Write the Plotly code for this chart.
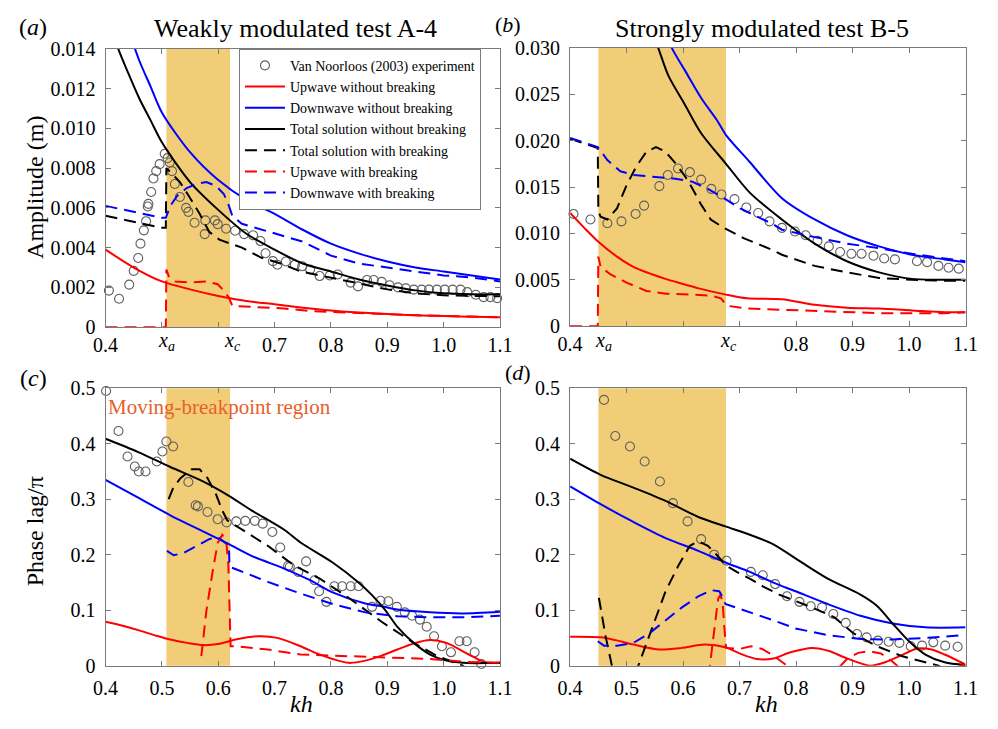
import plotly.graph_objects as go

# ---------------- data ----------------
# region boundaries (x_a, x_c)
XA_A, XC_A = 0.508, 0.621
XA_B, XC_B = 0.450, 0.676

# ----- panel (a): amplitude, weakly modulated A-4 -----
a_exp_kh = [0.406, 0.424, 0.442, 0.450, 0.458, 0.462, 0.468, 0.472, 0.475, 0.476, 0.481, 0.485, 0.490, 0.496,
            0.505, 0.510, 0.514, 0.518, 0.523, 0.532, 0.543, 0.547, 0.558, 0.576, 0.577, 0.594, 0.599, 0.614,
            0.630, 0.646, 0.662, 0.675, 0.684, 0.697, 0.705, 0.720, 0.736, 0.749, 0.763, 0.780, 0.798, 0.812,
            0.835, 0.848, 0.864, 0.876, 0.890, 0.904, 0.919, 0.933, 0.947, 0.961, 0.974, 0.988, 1.002, 1.016,
            1.030, 1.042, 1.057, 1.071, 1.083, 1.095]
a_exp_amp = [0.00184, 0.00143, 0.00214, 0.00283, 0.00348, 0.00420, 0.00487, 0.00533, 0.00607, 0.00620, 0.00680,
             0.00748, 0.00785, 0.00820, 0.00872, 0.00850, 0.00828, 0.00785, 0.00720, 0.00655, 0.00600, 0.00580,
             0.00525, 0.00468, 0.00537, 0.00537, 0.00518, 0.00495, 0.00485, 0.00468, 0.00462, 0.00433, 0.00372,
             0.00332, 0.00314, 0.00330, 0.00314, 0.00306, 0.00290, 0.00257, 0.00260, 0.00265, 0.00224, 0.00205,
             0.00237, 0.00237, 0.00228, 0.00211, 0.00200, 0.00195, 0.00189, 0.00189, 0.00189, 0.00189, 0.00189,
             0.00189, 0.00189, 0.00176, 0.00163, 0.00151, 0.00151, 0.00146]

a_up_kh = [0.40, 0.45, 0.50, 0.55, 0.60, 0.65, 0.70, 0.75, 0.80, 0.85, 0.90, 0.95, 1.00, 1.05, 1.10]
a_up_amp = [0.0039, 0.0030, 0.0023, 0.0019, 0.00157, 0.00132, 0.00115, 0.00098, 0.00084, 0.00074, 0.00066,
            0.00060, 0.00056, 0.00052, 0.00050]

a_down_kh = [0.40, 0.42, 0.44, 0.46, 0.48, 0.50, 0.55, 0.60, 0.65, 0.70, 0.75, 0.80, 0.85, 0.90, 0.95, 1.00, 1.05, 1.10]
a_down_amp = [0.0180, 0.0165, 0.0150, 0.0134, 0.0121, 0.0108, 0.0088, 0.0074, 0.0064, 0.0057, 0.0049, 0.0042,
              0.0037, 0.0033, 0.0030, 0.0028, 0.0026, 0.0024]

a_tot_kh = [0.40, 0.42, 0.44, 0.46, 0.48, 0.50, 0.55, 0.60, 0.65, 0.70, 0.75, 0.80, 0.85, 0.90, 0.95, 1.00, 1.05, 1.10]
a_tot_amp = [0.0162, 0.0142, 0.0128, 0.0115, 0.0104, 0.0093, 0.0073, 0.0059, 0.0047, 0.0039, 0.0032, 0.0028,
             0.0024, 0.0021, 0.00185, 0.0017, 0.00165, 0.00165]

a_totb_kh = [0.40, 0.45, 0.50, 0.507, 0.508, 0.515, 0.532, 0.55, 0.567, 0.584, 0.602, 0.622, 0.642, 0.676, 0.711,
             0.746, 0.80, 0.85, 0.90, 0.95, 1.00, 1.05, 1.10]
a_totb_amp = [0.0056, 0.0053, 0.0050, 0.0050, 0.0080, 0.0078, 0.0073, 0.0065, 0.0057, 0.0048, 0.0044, 0.0042,
              0.0040, 0.0035, 0.0032, 0.0028, 0.0025, 0.0022, 0.0019, 0.0017, 0.0016, 0.00158, 0.00155]

a_upb_kh = [0.40, 0.507, 0.508, 0.512, 0.524, 0.55, 0.579, 0.599, 0.61, 0.619, 0.625, 0.659, 0.717, 0.763, 0.85,
            0.95, 1.05, 1.10]
a_upb_amp = [0.0, 0.0, 0.0029, 0.00257, 0.0023, 0.00224, 0.0023, 0.00216, 0.00184, 0.00148, 0.00107, 0.00102,
             0.00094, 0.00081, 0.00070, 0.00060, 0.00053, 0.00050]

a_downb_kh = [0.40, 0.45, 0.50, 0.507, 0.515, 0.527, 0.544, 0.561, 0.579, 0.596, 0.61, 0.619, 0.625, 0.642, 0.688,
              0.75, 0.80, 0.85, 0.90, 0.95, 1.00, 1.05, 1.10]
a_downb_amp = [0.0061, 0.0058, 0.0055, 0.0055, 0.0061, 0.0066, 0.0070, 0.0072, 0.0073, 0.0071, 0.0067, 0.0061,
               0.0056, 0.0052, 0.0048, 0.0043, 0.0036, 0.0032, 0.0030, 0.0028, 0.0026, 0.0025, 0.0023]

# ----- panel (b): amplitude, strongly modulated B-5 -----
b_exp_kh = [0.406, 0.436, 0.466, 0.491, 0.516, 0.531, 0.558, 0.573, 0.591, 0.612, 0.632, 0.650, 0.668, 0.691,
            0.712, 0.733, 0.753, 0.775, 0.798, 0.817, 0.838, 0.858, 0.878, 0.898, 0.916, 0.937, 0.956, 0.975,
            1.014, 1.032, 1.052, 1.070, 1.088]
b_exp_amp = [0.0121, 0.0115, 0.0111, 0.0113, 0.0121, 0.0130, 0.0151, 0.0163, 0.0170, 0.0166, 0.0158, 0.0148,
             0.0142, 0.0137, 0.0128, 0.0122, 0.0113, 0.0106, 0.0102, 0.0098, 0.0092, 0.0086, 0.0080, 0.0078,
             0.0078, 0.0076, 0.0073, 0.0072, 0.0070, 0.0069, 0.0065, 0.0063, 0.0062]

b_up_kh = [0.40, 0.425, 0.45, 0.483, 0.512, 0.545, 0.569, 0.603, 0.626, 0.676, 0.713, 0.775, 0.833, 0.890, 0.947,
           1.005, 1.063, 1.10]
b_up_amp = [0.0122, 0.0106, 0.0091, 0.0075, 0.0064, 0.0056, 0.0051, 0.0045, 0.0041, 0.0034, 0.0030, 0.0029,
            0.0023, 0.0020, 0.0019, 0.0017, 0.0015, 0.0015]

b_down_kh = [0.55, 0.58, 0.603, 0.632, 0.66, 0.676, 0.718, 0.775, 0.833, 0.890, 0.947, 1.005, 1.063, 1.10]
b_down_amp = [0.0345, 0.0300, 0.0276, 0.0246, 0.0222, 0.0206, 0.0177, 0.0138, 0.0115, 0.0098, 0.0086, 0.0077,
              0.0072, 0.0069]

b_tot_kh = [0.53, 0.556, 0.574, 0.603, 0.632, 0.676, 0.718, 0.775, 0.833, 0.890, 0.947, 1.005, 1.05, 1.10]
b_tot_amp = [0.0340, 0.0300, 0.0270, 0.0239, 0.0208, 0.0175, 0.0144, 0.0115, 0.0089, 0.0070, 0.0058, 0.0051,
             0.0050, 0.0050]

b_totb_kh = [0.40, 0.431, 0.449, 0.450, 0.454, 0.466, 0.483, 0.50, 0.517, 0.535, 0.552, 0.569, 0.586, 0.603,
             0.615, 0.632, 0.649, 0.672, 0.707, 0.759, 0.775, 0.833, 0.890, 0.947, 1.005, 1.063, 1.10]
b_totb_amp = [0.0202, 0.0196, 0.0192, 0.0124, 0.0118, 0.0115, 0.0127, 0.0152, 0.0172, 0.0188, 0.0193, 0.0188,
              0.0176, 0.0162, 0.0150, 0.0131, 0.0115, 0.0106, 0.0095, 0.0082, 0.0077, 0.0065, 0.0058, 0.0052,
              0.0050, 0.0049, 0.0049]

b_upb_kh = [0.40, 0.449, 0.450, 0.454, 0.471, 0.50, 0.535, 0.569, 0.615, 0.649, 0.667, 0.678, 0.713, 0.759, 0.833,
            0.947, 1.063, 1.10]
b_upb_amp = [0.0, 0.0, 0.0075, 0.0064, 0.0056, 0.0047, 0.0038, 0.0035, 0.0034, 0.0033, 0.0030, 0.0022, 0.0019,
             0.0018, 0.0016, 0.0014, 0.0014, 0.0015]

b_downb_kh = [0.40, 0.449, 0.466, 0.489, 0.512, 0.546, 0.586, 0.615, 0.644, 0.672, 0.701, 0.759, 0.775, 0.833,
              0.890, 0.947, 1.005, 1.063, 1.10]
b_downb_amp = [0.0203, 0.0193, 0.0179, 0.0167, 0.0163, 0.0161, 0.0159, 0.0156, 0.0148, 0.0138, 0.0127, 0.0110,
               0.0104, 0.0096, 0.0089, 0.0084, 0.0078, 0.0073, 0.0070]

# ----- panel (c): phase lag / pi, A-4 -----
c_exp_kh = [0.401, 0.423, 0.439, 0.452, 0.459, 0.471, 0.491, 0.501, 0.508, 0.520, 0.547, 0.560, 0.564, 0.581,
            0.599, 0.615, 0.632, 0.648, 0.665, 0.679, 0.696, 0.710, 0.724, 0.727, 0.742, 0.756, 0.771, 0.779,
            0.792, 0.806, 0.820, 0.835, 0.849, 0.873, 0.888, 0.902, 0.917, 0.931, 0.944, 0.958, 0.970, 0.983,
            0.997, 1.013, 1.028, 1.041, 1.055, 1.067]
c_exp_ph = [0.495, 0.423, 0.377, 0.359, 0.350, 0.350, 0.368, 0.386, 0.404, 0.395, 0.331, 0.289, 0.287, 0.277,
            0.264, 0.258, 0.260, 0.261, 0.261, 0.256, 0.241, 0.213, 0.180, 0.178, 0.169, 0.188, 0.154, 0.134,
            0.115, 0.143, 0.143, 0.143, 0.143, 0.106, 0.117, 0.116, 0.106, 0.096, 0.090, 0.083, 0.070, 0.053,
            0.035, 0.024, 0.044, 0.044, 0.024, 0.003]

c_up_kh = [0.40, 0.43, 0.458, 0.49, 0.515, 0.545, 0.573, 0.60, 0.631, 0.671, 0.705, 0.746, 0.775, 0.803, 0.832,
           0.861, 0.89, 0.918, 0.947, 0.976, 1.005, 1.045, 1.074, 1.10]
c_up_ph = [0.079, 0.072, 0.064, 0.054, 0.047, 0.041, 0.037, 0.039, 0.047, 0.053, 0.050, 0.035, 0.022, 0.012,
           0.005, 0.009, 0.018, 0.029, 0.040, 0.046, 0.041, 0.020, 0.006, 0.005]

c_down_kh = [0.40, 0.458, 0.515, 0.573, 0.619, 0.659, 0.717, 0.763, 0.803, 0.861, 0.895, 0.918, 0.976, 1.034, 1.10]
c_down_ph = [0.335, 0.303, 0.271, 0.242, 0.219, 0.198, 0.175, 0.154, 0.132, 0.112, 0.106, 0.101, 0.096, 0.094, 0.097]

c_tot_kh = [0.40, 0.458, 0.515, 0.573, 0.619, 0.659, 0.717, 0.746, 0.803, 0.849, 0.872, 0.895, 0.918, 0.947,
            0.976, 1.005, 1.034, 1.10]
c_tot_ph = [0.409, 0.385, 0.358, 0.332, 0.306, 0.280, 0.245, 0.222, 0.186, 0.150, 0.128, 0.102, 0.070, 0.041,
            0.020, 0.009, 0.005, 0.005]

c_totb_kh = [0.512, 0.52, 0.533, 0.553, 0.567, 0.581, 0.596, 0.607, 0.616, 0.642, 0.688, 0.734, 0.78, 0.832,
             0.89, 0.947, 0.988, 1.034, 1.04]
c_totb_ph = [0.300, 0.320, 0.338, 0.354, 0.354, 0.338, 0.309, 0.280, 0.262, 0.245, 0.216, 0.181, 0.157, 0.122,
             0.079, 0.041, 0.0175, 0.0, -0.005]

c_upb_kh = [0.570, 0.579, 0.590, 0.599, 0.607, 0.614, 0.618, 0.620, 0.622, 0.63, 0.688, 0.746, 0.861, 0.976,
            1.034, 1.10]
c_upb_ph = [0.017, 0.099, 0.169, 0.221, 0.236, 0.227, 0.181, 0.099, 0.035, 0.035, 0.029, 0.020, 0.016, 0.012,
            0.007, 0.005]

c_downb_kh = [0.509, 0.521, 0.538, 0.561, 0.584, 0.599, 0.613, 0.619, 0.620, 0.636, 0.688, 0.746, 0.803, 0.861,
              0.918, 0.976, 1.034, 1.10]
c_downb_ph = [0.207, 0.199, 0.203, 0.216, 0.228, 0.232, 0.221, 0.219, 0.178, 0.172, 0.151, 0.130, 0.111, 0.096,
              0.089, 0.087, 0.087, 0.090]

# ----- panel (d): phase lag / pi, B-5 -----
d_exp_kh = [0.460, 0.480, 0.506, 0.532, 0.559, 0.582, 0.608, 0.632, 0.655, 0.677, 0.720, 0.741, 0.763, 0.784,
            0.806, 0.826, 0.846, 0.866, 0.888, 0.908, 0.925, 0.945, 0.964, 0.983, 1.003, 1.023, 1.043, 1.064, 1.086]
d_exp_ph = [0.479, 0.414, 0.395, 0.368, 0.332, 0.293, 0.260, 0.228, 0.200, 0.189, 0.169, 0.163, 0.147, 0.125,
            0.115, 0.107, 0.105, 0.093, 0.077, 0.057, 0.051, 0.045, 0.043, 0.041, 0.035, 0.036, 0.042, 0.036, 0.034]

d_up_kh = [0.40, 0.454, 0.48, 0.512, 0.558, 0.598, 0.638, 0.675, 0.70, 0.73, 0.76, 0.79, 0.828, 0.86, 0.885,
           0.931, 0.96, 0.983, 1.015, 1.04, 1.063, 1.098]
d_up_ph = [0.052, 0.051, 0.046, 0.038, 0.029, 0.032, 0.038, 0.033, 0.022, 0.012, 0.013, 0.024, 0.032, 0.026,
           0.015, 0.0, 0.007, 0.017, 0.031, 0.029, 0.020, 0.003]

d_down_kh = [0.40, 0.454, 0.512, 0.569, 0.627, 0.675, 0.718, 0.759, 0.799, 0.856, 0.914, 0.971, 1.029, 1.10]
d_down_ph = [0.323, 0.291, 0.259, 0.230, 0.207, 0.186, 0.169, 0.150, 0.134, 0.111, 0.090, 0.076, 0.069, 0.069]

d_tot_kh = [0.40, 0.454, 0.512, 0.569, 0.627, 0.675, 0.718, 0.759, 0.81, 0.856, 0.914, 0.943, 0.971, 1.0,
            1.029, 1.063, 1.10]
d_tot_ph = [0.373, 0.344, 0.321, 0.297, 0.268, 0.251, 0.236, 0.219, 0.186, 0.157, 0.128, 0.108, 0.076, 0.044,
            0.020, 0.006, 0.001]

d_totb_kh = [0.451, 0.463, 0.474, 0.49, 0.51, 0.526, 0.546, 0.569, 0.592, 0.612, 0.627, 0.644, 0.661, 0.675,
             0.695, 0.718, 0.741, 0.77, 0.828, 0.868, 0.902, 0.943, 0.988, 1.029, 1.052, 1.06]
d_totb_ph = [0.122, 0.052, 0.0, -0.04, -0.03, 0.015, 0.073, 0.134, 0.181, 0.216, 0.224, 0.216, 0.198, 0.181,
             0.169, 0.157, 0.143, 0.128, 0.105, 0.087, 0.058, 0.035, 0.017, 0.006, 0.0, -0.005]

d_upb_kh = [0.645, 0.655, 0.662, 0.666, 0.670, 0.673, 0.676, 0.70, 0.72, 0.74, 0.76, 0.78, 0.80, 0.84, 0.87,
            0.89, 0.91, 0.93, 0.95, 0.97, 0.99, 1.04, 1.08, 1.10]
d_upb_ph = [-0.02, 0.06, 0.12, 0.128, 0.115, 0.07, 0.032, 0.030, 0.035, 0.030, 0.018, 0.003, -0.015, -0.03,
            -0.01, 0.012, 0.023, 0.026, 0.022, 0.008, -0.01, -0.02, -0.005, 0.003]

d_downb_kh = [0.449, 0.46, 0.483, 0.512, 0.54, 0.569, 0.598, 0.627, 0.65, 0.664, 0.671, 0.675, 0.684, 0.718,
              0.759, 0.799, 0.856, 0.914, 0.971, 1.029, 1.10]
d_downb_ph = [0.044, 0.036, 0.036, 0.041, 0.058, 0.082, 0.105, 0.125, 0.136, 0.134, 0.122, 0.111, 0.108, 0.096,
              0.082, 0.067, 0.055, 0.048, 0.047, 0.050, 0.055]

# tick labels
X_TICKS_A = [0.4, 0.7, 0.8, 0.9, 1.0, 1.1]
X_MINOR_A = [0.5, 0.6]
X_TICKS_B = [0.4, 0.8, 0.9, 1.0, 1.1]
X_MINOR_B = [0.5, 0.6, 0.7]
X_TICKS_CD = [0.4, 0.5, 0.6, 0.7, 0.8, 0.9, 1.0, 1.1]
X_TEXT_A = ["0.4", "0.7", "0.8", "0.9", "1.0", "1.1"]
X_TEXT_B = ["0.4", "0.8", "0.9", "1.0", "1.1"]
X_TEXT_CD = ["0.4", "0.5", "0.6", "0.7", "0.8", "0.9", "1.0", "1.1"]
Y_TICKS_A = [0, 0.002, 0.004, 0.006, 0.008, 0.010, 0.012, 0.014]
Y_TEXT_A = ["0", "0.002", "0.004", "0.006", "0.008", "0.010", "0.012", "0.014"]
Y_TICKS_B = [0, 0.005, 0.010, 0.015, 0.020, 0.025, 0.030]
Y_TEXT_B = ["0", "0.005", "0.010", "0.015", "0.020", "0.025", "0.030"]
Y_TICKS_CD = [0, 0.1, 0.2, 0.3, 0.4, 0.5]
Y_TEXT_CD = ["0", "0.1", "0.2", "0.3", "0.4", "0.5"]

# ---------------- styling ----------------
FONT = "Liberation Serif, Times New Roman, serif"
RED, BLUE, BLACK = "#ff0000", "#0000ff", "#000000"
SHADE = "#f2cd78"
DASH = "12px,7px"
LW = 2
AXC = "#7a7a7a"

fig = go.Figure()

panels = [
    ("x", "y", a_exp_kh, a_exp_amp,
     [(a_up_kh, a_up_amp), (a_down_kh, a_down_amp), (a_tot_kh, a_tot_amp),
      (a_totb_kh, a_totb_amp), (a_upb_kh, a_upb_amp), (a_downb_kh, a_downb_amp)]),
    ("x2", "y2", b_exp_kh, b_exp_amp,
     [(b_up_kh, b_up_amp), (b_down_kh, b_down_amp), (b_tot_kh, b_tot_amp),
      (b_totb_kh, b_totb_amp), (b_upb_kh, b_upb_amp), (b_downb_kh, b_downb_amp)]),
    ("x3", "y3", c_exp_kh, c_exp_ph,
     [(c_up_kh, c_up_ph), (c_down_kh, c_down_ph), (c_tot_kh, c_tot_ph),
      (c_totb_kh, c_totb_ph), (c_upb_kh, c_upb_ph), (c_downb_kh, c_downb_ph)]),
    ("x4", "y4", d_exp_kh, d_exp_ph,
     [(d_up_kh, d_up_ph), (d_down_kh, d_down_ph), (d_tot_kh, d_tot_ph),
      (d_totb_kh, d_totb_ph), (d_upb_kh, d_upb_ph), (d_downb_kh, d_downb_ph)]),
]

names = ["Upwave without breaking", "Downwave without breaking", "Total solution without breaking",
         "Total solution with breaking", "Upwave with breaking", "Downwave with breaking"]
colors = [RED, BLUE, BLACK, BLACK, RED, BLUE]
dashes = ["solid", "solid", "solid", DASH, DASH, DASH]
shapes_ln = ["spline", "spline", "spline", "linear", "linear", "linear"]

for i, (xa, ya, ex, ey, lines) in enumerate(panels):
    first = (i == 0)
    fig.add_trace(go.Scatter(
        x=ex, y=ey, mode="markers", xaxis=xa, yaxis=ya,
        name="Van Noorloos (2003) experiment", showlegend=first,
        marker=dict(symbol="circle-open", size=9, color="#5f5f5f", line=dict(width=1.1, color="#5f5f5f")),
        cliponaxis=False))
    for (lx, ly), nm, col, ds, sh in zip(lines, names, colors, dashes, shapes_ln):
        ln = dict(color=col, width=LW, dash=ds, shape=sh)
        if sh == "spline":
            ln["smoothing"] = 0.8
        fig.add_trace(go.Scatter(
            x=lx, y=ly, mode="lines", xaxis=xa, yaxis=ya, name=nm, showlegend=first, line=ln))

# ---------------- axes ----------------
XD_L = [95 / 998, 500 / 998]
XD_R = [572 / 998, 978 / 998]
YD_T = [1 - 326 / 729, 1 - 39 / 729]
YD_B = [1 - 675 / 729, 1 - 389 / 729]

axis_common = dict(showline=True, linecolor=AXC, linewidth=1, mirror="ticks", ticks="inside",
                   ticklen=5, tickcolor=AXC, tickwidth=1, showgrid=False, zeroline=False,
                   tickfont=dict(family=FONT, size=20, color="black"))

def minor(vals):
    return dict(tickvals=vals, ticks="inside", ticklen=5, tickcolor=AXC, tickwidth=1, showgrid=False)

fig.update_layout(
    xaxis=dict(domain=XD_L, anchor="y", range=[0.4, 1.1], tickvals=X_TICKS_A, ticktext=X_TEXT_A,
               minor=minor(X_MINOR_A), ticklabelstandoff=0, **axis_common),
    yaxis=dict(domain=YD_T, anchor="x", range=[0, 0.014], tickvals=Y_TICKS_A, ticktext=Y_TEXT_A,
               ticklabelstandoff=5, **axis_common),
    xaxis2=dict(domain=XD_R, anchor="y2", range=[0.4, 1.1], tickvals=X_TICKS_B, ticktext=X_TEXT_B,
                minor=minor(X_MINOR_B), ticklabelstandoff=0, **axis_common),
    yaxis2=dict(domain=[1 - 325 / 729, 1 - 38 / 729], anchor="x2", range=[0, 0.030], tickvals=Y_TICKS_B,
                ticktext=Y_TEXT_B, ticklabelstandoff=5, **axis_common),
    xaxis3=dict(domain=XD_L, anchor="y3", range=[0.4, 1.1], tickvals=X_TICKS_CD, ticktext=X_TEXT_CD,
                ticklabelstandoff=4, **axis_common),
    yaxis3=dict(domain=YD_B, anchor="x3", range=[0, 0.5], tickvals=Y_TICKS_CD, ticktext=Y_TEXT_CD,
                ticklabelstandoff=5, **axis_common),
    xaxis4=dict(domain=XD_R, anchor="y4", range=[0.4, 1.1], tickvals=X_TICKS_CD, ticktext=X_TEXT_CD,
                ticklabelstandoff=4, **axis_common),
    yaxis4=dict(domain=YD_B, anchor="x4", range=[0, 0.5], tickvals=Y_TICKS_CD, ticktext=Y_TEXT_CD,
                ticklabelstandoff=5, **axis_common),
)

# shaded moving-breakpoint regions
shapes = []
for xr, yr, x0, x1 in [("x", "y", XA_A, XC_A), ("x2", "y2", XA_B, XC_B),
                       ("x3", "y3", XA_A, XC_A), ("x4", "y4", XA_B, XC_B)]:
    shapes.append(dict(type="rect", xref=xr, yref=yr + " domain", x0=x0, x1=x1, y0=0, y1=1,
                       fillcolor=SHADE, line=dict(width=0), layer="below"))

# ---------------- annotations ----------------
ann = []
def txt(text, x, y, size=24, xref="paper", yref="paper", angle=0, xanchor="center", yanchor="middle", color="black"):
    ann.append(dict(text=text, x=x, y=y, xref=xref, yref=yref, showarrow=False, textangle=angle,
                    xanchor=xanchor, yanchor=yanchor, font=dict(family=FONT, size=size, color=color)))

txt("Weakly modulated test A-4", 290 / 998, 1 - 18 / 729, size=26)
txt("Strongly modulated test B-5", 769 / 998, 1 - 18 / 729, size=26)
txt("(<i>a</i>)", 21 / 998, 1 - 17 / 729)
txt("(<i>b</i>)", 508 / 998, 1 - 14 / 729, size=22)
txt("(<i>c</i>)", 21 / 998, 1 - 378 / 729)
txt("(<i>d</i>)", 518 / 998, 1 - 373 / 729, size=22)
txt("Amplitude (m)", 22 / 998, 1 - 182 / 729, angle=-90)
txt("Phase lag/π", 22 / 998, 1 - 536 / 729, angle=-90)
txt("<i>kh</i>", 296 / 998, 1 - 715 / 729)
txt("<i>kh</i>", 774 / 998, 1 - 715 / 729)
txt("Moving-breakpoint region", 0.400, 0.467, size=21, xref="x3", yref="y3", xanchor="left",
    color="#e8602c")
for xr, xv, lab in [("x", XA_A, "a"), ("x", XC_A + 0.004, "c"), ("x2", XA_B + 0.009, "a"), ("x2", XC_B + 0.005, "c")]:
    txt("<i>x</i><sub><i>%s</i></sub>" % lab, xv, 1 - 326 / 729, size=20, xref=xr, yanchor="top")

fig.update_layout(
    width=998, height=729, autosize=False,
    margin=dict(l=0, r=0, t=0, b=0),
    paper_bgcolor="white", plot_bgcolor="white",
    shapes=shapes, annotations=ann,
    font=dict(family=FONT, size=16, color="black"),
    legend=dict(x=232 / 998, y=1 - 39 / 729, xanchor="left", yanchor="top",
                bgcolor="white", bordercolor=AXC, borderwidth=1,
                font=dict(family=FONT, size=14, color="black"),
                tracegroupgap=0, itemwidth=40),
    showlegend=True,
)

fig.write_html("out.html")
